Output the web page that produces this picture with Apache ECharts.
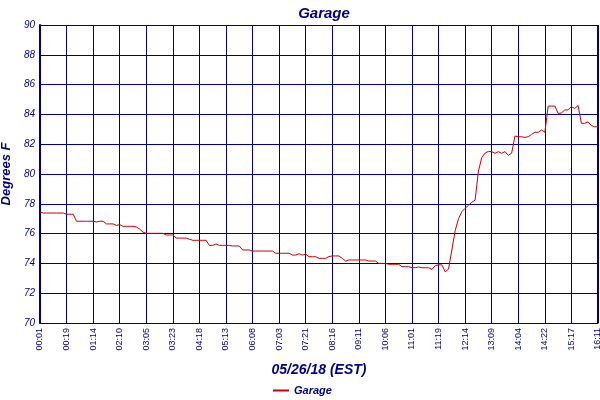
<!DOCTYPE html>
<html>
<head>
<meta charset="utf-8">
<script src="https://cdn.jsdelivr.net/npm/echarts@6/dist/echarts.min.js"></script>
<style>
  html, body { margin: 0; padding: 0; background: #fff; }
  #chart { width: 600px; height: 400px; }
</style>
</head>
<body>
<div id="chart"></div>
<script>
// tick labels shown on the time axis, one per grid column
var tickLabels = ["00:01", "00:19", "01:14", "02:10", "03:05", "03:23", "04:18", "05:13",
  "06:08", "07:03", "07:21", "08:16", "09:11", "10:06", "11:01", "11:19",
  "12:14", "13:09", "14:04", "14:22", "15:17", "16:11"];
var pointsPerTick = 8;

// garage temperature, degrees F (8 samples per grid column)
var garage = [
  77.45, 77.38, 77.38, 77.38, 77.38, 77.38, 77.38, 77.38,
  77.3, 77.3, 77.3, 76.83, 76.83, 76.83, 76.83, 76.83,
  76.83, 76.78, 76.83, 76.83, 76.65, 76.65, 76.65, 76.55,
  76.6, 76.49, 76.49, 76.49, 76.49, 76.45, 76.3, 76.1,
  76.02, 76.02, 76.02, 76.02, 76.02, 76.02, 75.91, 75.91,
  75.91, 75.7, 75.7, 75.7, 75.7, 75.62, 75.55, 75.55,
  75.55, 75.55, 75.55, 75.21, 75.21, 75.3, 75.21, 75.21,
  75.21, 75.21, 75.17, 75.17, 75.17, 74.9, 74.9, 74.9,
  74.83, 74.83, 74.83, 74.83, 74.83, 74.83, 74.83, 74.68,
  74.68, 74.68, 74.68, 74.68, 74.56, 74.56, 74.65, 74.56,
  74.62, 74.45, 74.45, 74.45, 74.34, 74.34, 74.34, 74.46,
  74.5, 74.5, 74.5, 74.34, 74.16, 74.23, 74.23, 74.23,
  74.23, 74.23, 74.23, 74.16, 74.16, 74.16, 74.0, 74.0,
  74.0, 73.94, 73.94, 73.94, 73.94, 73.78, 73.78, 73.78,
  73.71, 73.71, 73.76, 73.71, 73.71, 73.71, 73.6, 73.85,
  73.9, 73.9, 73.44, 73.62, 74.9, 76.2, 77.0, 77.47,
  77.7, 77.9, 78.1, 78.25, 80.2, 81.1, 81.4, 81.52,
  81.5, 81.39, 81.5, 81.39, 81.5, 81.25, 81.4, 82.55,
  82.5, 82.5, 82.46, 82.5, 82.66, 82.8, 82.8, 82.95,
  82.8, 84.56, 84.56, 84.56, 84.07, 84.1, 84.3, 84.3,
  84.52, 84.4, 84.6, 83.4, 83.4, 83.5, 83.25, 83.17,
  83.17
];

var navy = "#000080";
var font = "Liberation Sans";

// one category per sample; only every 8th gets a label
var categories = garage.map(function (v, i) {
  return i % pointsPerTick === 0 ? tickLabels[i / pointsPerTick] : "";
});

var chart = echarts.init(document.getElementById("chart"));
chart.setOption({
  animation: false,
  backgroundColor: "#fff",
  title: {
    text: "Garage",
    left: 319, top: 1, textAlign: "center",
    textStyle: { color: navy, fontFamily: font, fontStyle: "italic", fontWeight: "bold", fontSize: 15 }
  },
  legend: {
    data: ["Garage"],
    left: 268, top: 380,
    itemWidth: 16, itemHeight: 2, itemGap: 4,
    icon: "rect",
    textStyle: { color: navy, fontFamily: font, fontStyle: "italic", fontWeight: "bold", fontSize: 11 }
  },
  grid: { left: 40, right: 2, top: 25, bottom: 77, containLabel: false, outerBoundsMode: "none" },
  xAxis: {
    type: "category",
    data: categories,
    boundaryGap: false,
    name: "05/26/18 (EST)",
    nameLocation: "middle",
    nameGap: 40,
    nameTextStyle: { color: navy, fontFamily: font, fontStyle: "italic", fontWeight: "bold", fontSize: 14 },
    axisLine: { lineStyle: { color: navy, width: 1 } },
    axisTick: { show: false },
    axisLabel: {
      interval: pointsPerTick - 1, rotate: 90, margin: 5,
      color: navy, fontFamily: font, fontSize: 9
    },
    splitLine: { show: true, interval: pointsPerTick - 1, lineStyle: { color: navy, width: 1 } }
  },
  yAxis: {
    type: "value",
    min: 70, max: 90, interval: 2,
    name: "Degrees F",
    nameLocation: "middle",
    nameGap: 27,
    nameTextStyle: { color: navy, fontFamily: font, fontStyle: "italic", fontWeight: "bold", fontSize: 13 },
    axisLine: { show: true, lineStyle: { color: navy, width: 2 } },
    axisTick: { show: false },
    axisLabel: { color: navy, fontFamily: font, fontStyle: "italic", fontSize: 10, margin: 5 },
    splitLine: { lineStyle: { color: navy, width: 1 } }
  },
  series: [{
    name: "Garage",
    type: "line",
    data: garage,
    showSymbol: false,
    itemStyle: { color: "#cc0000" },
    lineStyle: { color: "#cc0000", width: 1 }
  }],
  graphic: [{
    // thick right-hand frame edge like the reference
    type: "rect",
    shape: { x: 597, y: 25, width: 2, height: 298 },
    style: { fill: navy }
  }]
});
</script>
</body>
</html>
